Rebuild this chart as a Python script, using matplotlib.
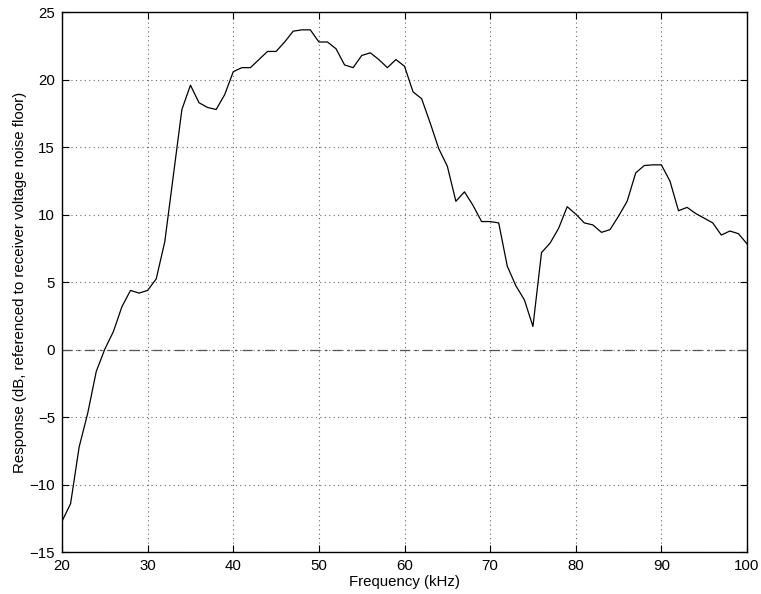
import numpy as np
import matplotlib
matplotlib.use('Agg')
import matplotlib.pyplot as plt

# Frequency axis, one sample per kHz
freq = np.arange(20, 101)
# Response (dB)
resp = [-12.7, -11.4, -7.2, -4.7, -1.6, 0.05, 1.35, 3.2, 4.4, 4.2,
        4.4, 5.25, 8.0, 12.9, 17.8, 19.6, 18.3, 17.95, 17.8, 18.9,
        20.6, 20.9, 20.9, 21.5, 22.1, 22.1, 22.8, 23.6, 23.7, 23.7,
        22.8, 22.8, 22.3, 21.1, 20.9, 21.8, 22.0, 21.5, 20.9, 21.5,
        21.0, 19.1, 18.6, 16.8, 14.9, 13.6, 11.0, 11.7, 10.7, 9.5,
        9.5, 9.4, 6.2, 4.75, 3.7, 1.73, 7.2, 7.9, 9.0, 10.6,
        10.05, 9.4, 9.25, 8.7, 8.9, 9.9, 11.0, 13.1, 13.65, 13.7,
        13.7, 12.5, 10.3, 10.55, 10.1, 9.75, 9.4, 8.5, 8.8, 8.6,
        7.85]

plt.rcParams['font.family'] = ['Liberation Sans', 'DejaVu Sans']
plt.rcParams['font.size'] = 10.8

fig = plt.figure(figsize=(7.61, 5.94), dpi=100)
ax = fig.add_axes([0.0815, 0.0702, 0.9001, 0.9091])

ax.plot(freq, resp, color='black', linewidth=0.9)
ax.axhline(0, color='#555555', linewidth=0.9, dashes=(8, 4, 2, 4))

ax.set_xlim(20, 100)
ax.set_ylim(-15, 25)
ax.set_xticks(np.arange(20, 101, 10))
ax.set_yticks(np.arange(-15, 26, 5))
ax.grid(True, linestyle=(0, (1, 3)), color='#666666', linewidth=0.8)
ax.tick_params(direction='in', top=True, right=True, length=5, width=0.8, pad=5)
for s in ax.spines.values():
    s.set_linewidth(1.0)

ax.set_xlabel('Frequency (kHz)', labelpad=1)
ax.set_ylabel('Response (dB, referenced to receiver voltage noise floor)', labelpad=2)

fig.savefig('out.png', dpi=100)
